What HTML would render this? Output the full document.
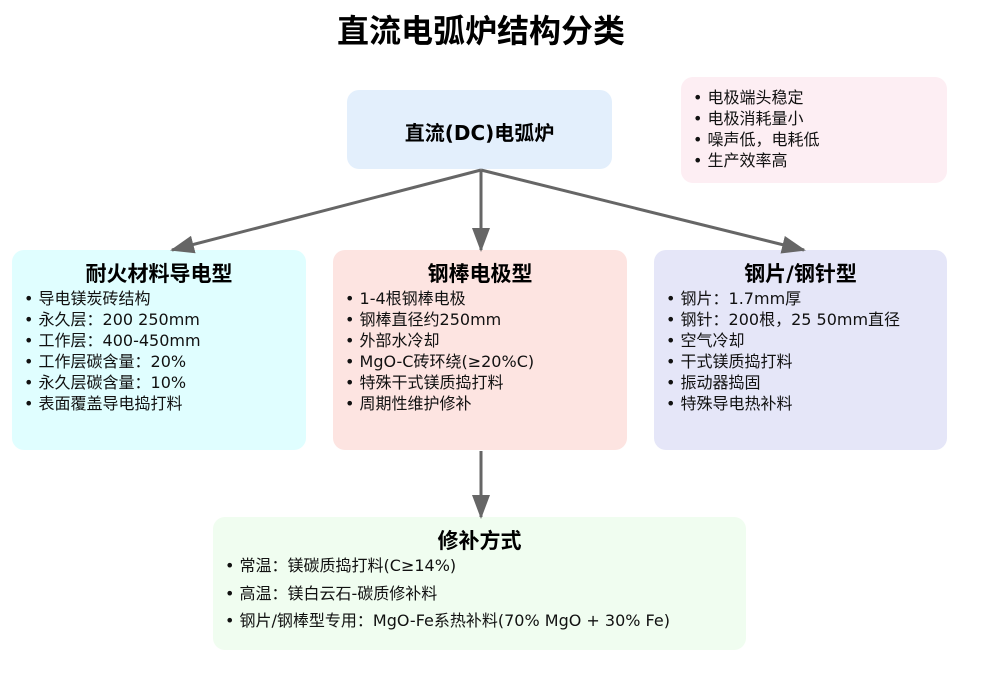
<!DOCTYPE html>
<html><head><meta charset="utf-8"><style>
body{margin:0;width:1000px;height:677px;background:#fff;position:relative;font-family:"DejaVu Sans","Noto Sans CJK SC",sans-serif;overflow:hidden}
.b{position:absolute;border-radius:12px}
h1{position:absolute;left:0;width:962px;top:6px;margin:0;text-align:center;font-size:32px;font-weight:bold;color:#000;font-family:"Liberation Sans","Noto Sans CJK SC",sans-serif}
.t{font-weight:bold;font-size:20px;text-align:center;position:absolute;left:0;right:0}
ul{position:absolute;margin:0;padding:0;list-style:none;font-size:16px;line-height:21px;color:#111;white-space:nowrap}
li:before{content:"• ";}
</style></head><body>
<h1>直流电弧炉结构分类</h1>
<div class="b" style="left:347px;top:90px;width:265px;height:79px;background:#e3effc"><div class="t" style="top:27px;font-size:20px">直流(DC)电弧炉</div></div>
<div class="b" style="left:681px;top:77px;width:266px;height:106px;background:#fdeef3">
<ul style="left:12px;top:10px"><li>电极端头稳定</li><li>电极消耗量小</li><li>噪声低，电耗低</li><li>生产效率高</li></ul></div>
<div class="b" style="left:12px;top:250px;width:294px;height:200px;background:#e0feff"><div class="t" style="top:8px;font-size:21px">耐火材料导电型</div>
<ul style="left:12px;top:38px"><li>导电镁炭砖结构</li><li>永久层：200 250mm</li><li>工作层：400-450mm</li><li>工作层碳含量：20%</li><li>永久层碳含量：10%</li><li>表面覆盖导电捣打料</li></ul></div>
<div class="b" style="left:333px;top:250px;width:294px;height:200px;background:#fde4e1"><div class="t" style="top:8px;font-size:21px">钢棒电极型</div>
<ul style="left:12px;top:38px"><li>1-4根钢棒电极</li><li>钢棒直径约250mm</li><li>外部水冷却</li><li>MgO-C砖环绕(≥20%C)</li><li>特殊干式镁质捣打料</li><li>周期性维护修补</li></ul></div>
<div class="b" style="left:654px;top:250px;width:293px;height:200px;background:#e5e6f8"><div class="t" style="top:8px;font-size:21px">钢片/钢针型</div>
<ul style="left:12px;top:38px"><li>钢片：1.7mm厚</li><li>钢针：200根，25 50mm直径</li><li>空气冷却</li><li>干式镁质捣打料</li><li>振动器捣固</li><li>特殊导电热补料</li></ul></div>
<div class="b" style="left:213px;top:517px;width:533px;height:133px;background:#f0fdf0"><div class="t" style="top:8px;font-size:21px">修补方式</div>
<ul style="left:12px;top:35px;line-height:27.5px"><li>常温：镁碳质捣打料(C≥14%)</li><li>高温：镁白云石-碳质修补料</li><li>钢片/钢棒型专用：MgO-Fe系热补料(70% MgO + 30% Fe)</li></ul></div>
<svg width="1000" height="677" style="position:absolute;left:0;top:0">
<defs><marker id="m" markerWidth="24" markerHeight="18" refX="22" refY="9" orient="auto" markerUnits="userSpaceOnUse"><path d="M0,0L24,9L0,18z" fill="#666"/></marker></defs>
<g stroke="#666" stroke-width="3" fill="none">
<line x1="481" y1="170" x2="172" y2="250" marker-end="url(#m)"/>
<line x1="481" y1="170" x2="481" y2="250" marker-end="url(#m)"/>
<line x1="481" y1="170" x2="804" y2="250" marker-end="url(#m)"/>
<line x1="481" y1="451" x2="481" y2="517" marker-end="url(#m)"/>
</g></svg>
</body></html>
